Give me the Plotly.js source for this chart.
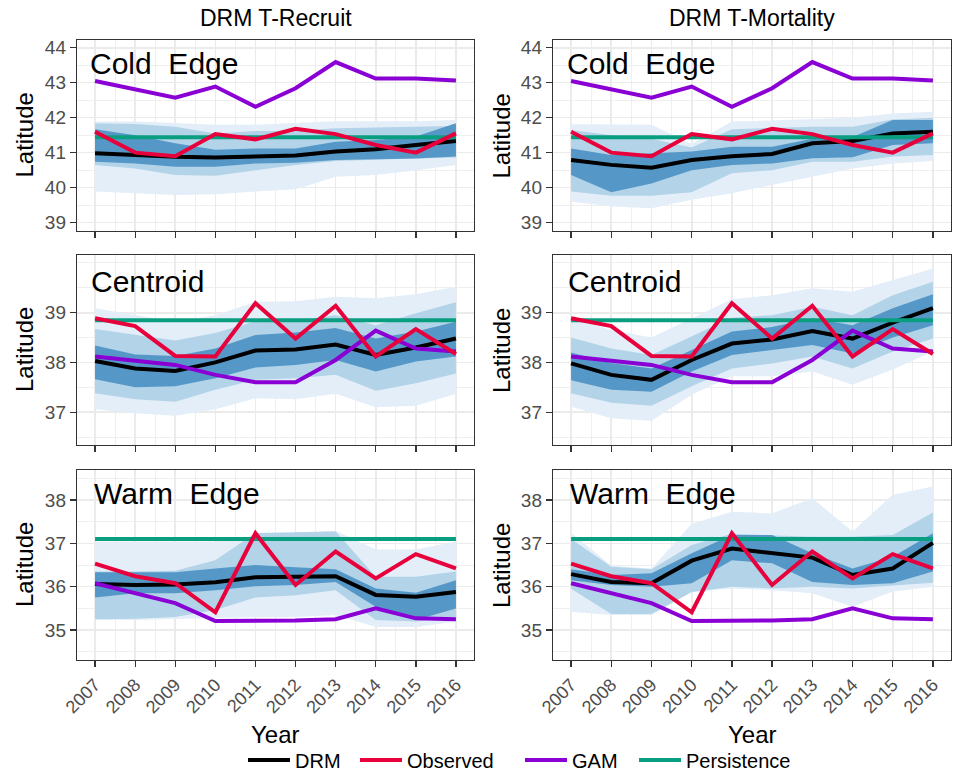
<!DOCTYPE html>
<html><head><meta charset="utf-8">
<script src="https://cdn.plot.ly/plotly-3.0.1.min.js"></script>
<style>html,body{margin:0;padding:0;background:#fff}</style>
</head><body><div id="chart" style="width:956px;height:777px"></div>
<script>
const years = [2007, 2008, 2009, 2010, 2011, 2012, 2013, 2014, 2015, 2016];
const columnTitles = ["DRM T-Recruit", "DRM T-Mortality"];
const rowLabels = ["Cold  Edge", "Centroid", "Warm  Edge"];
const seriesNames = ["DRM", "Observed", "GAM", "Persistence"];

// Observed / GAM / Persistence (same in both columns)
const obsCold = [41.6, 41.0, 40.9, 41.53, 41.38, 41.68, 41.53, 41.22, 41.0, 41.55];
const gamCold = [43.05, 42.81, 42.57, 42.89, 42.31, 42.84, 43.59, 43.12, 43.12, 43.06];
const perCold = [41.44, 41.44, 41.44, 41.44, 41.44, 41.44, 41.44, 41.44, 41.44, 41.44];
const obsCent = [38.89, 38.73, 38.13, 38.12, 39.19, 38.48, 39.14, 38.12, 38.67, 38.17];
const gamCent = [38.12, 38.03, 37.95, 37.75, 37.6, 37.6, 38.05, 38.64, 38.28, 38.22];
const perCent = [38.85, 38.85, 38.85, 38.85, 38.85, 38.85, 38.85, 38.85, 38.85, 38.85];
const obsWarm = [36.53, 36.24, 36.08, 35.41, 37.23, 36.04, 36.81, 36.19, 36.75, 36.42];
const gamWarm = [36.08, 35.85, 35.62, 35.21, 35.21, 35.22, 35.25, 35.5, 35.27, 35.25];
const perWarm = [37.1, 37.1, 37.1, 37.1, 37.1, 37.1, 37.1, 37.1, 37.1, 37.1];

// DRM T-Recruit, cold edge
const recColdDrm = [40.98, 40.93, 40.88, 40.86, 40.9, 40.92, 41.03, 41.1, 41.22, 41.33];
const recColdDarkHi = [41.67, 41.5, 41.27, 41.08, 41.12, 41.12, 41.31, 41.36, 41.46, 41.84];
const recColdDarkLo = [40.74, 40.69, 40.6, 40.6, 40.69, 40.71, 40.79, 40.81, 40.83, 40.89];
const recColdMidHi = [41.84, 41.82, 41.74, 41.55, 41.62, 41.62, 41.7, 41.71, 41.74, 41.76];
const recColdMidLo = [40.65, 40.55, 40.36, 40.34, 40.5, 40.65, 40.76, 40.79, 40.83, 40.86];
const recColdLightHi = [41.89, 41.89, 41.85, 41.8, 41.8, 41.85, 41.9, 41.9, 41.9, 41.93];
const recColdLightLo = [39.89, 39.84, 39.79, 39.81, 39.89, 39.95, 40.31, 40.36, 40.5, 40.65];

// DRM T-Mortality, cold edge
const morColdDrm = [40.79, 40.65, 40.57, 40.79, 40.9, 40.96, 41.27, 41.33, 41.55, 41.6];
const morColdDarkHi = [41.12, 40.93, 40.98, 41.03, 41.17, 41.17, 41.4, 41.45, 41.93, 41.93];
const morColdDarkLo = [40.36, 39.87, 40.12, 40.5, 40.65, 40.69, 40.84, 40.87, 41.22, 41.27];
const morColdMidHi = [41.65, 41.5, 41.4, 41.15, 41.67, 41.7, 41.74, 41.74, 41.95, 42.0];
const morColdMidLo = [39.89, 39.77, 39.77, 39.87, 40.41, 40.5, 40.74, 40.74, 40.89, 40.93];
const morColdLightHi = [41.81, 41.81, 41.8, 41.25, 41.89, 41.92, 41.95, 42.0, 42.12, 42.17];
const morColdLightLo = [39.6, 39.46, 39.41, 39.65, 39.84, 40.08, 40.31, 40.55, 40.69, 40.76];

// DRM T-Recruit, centroid
const recCentDrm = [38.03, 37.88, 37.83, 38.0, 38.24, 38.26, 38.36, 38.15, 38.3, 38.48];
const recCentDarkHi = [38.34, 38.16, 38.13, 38.28, 38.55, 38.6, 38.69, 38.48, 38.62, 38.82];
const recCentDarkLo = [37.66, 37.5, 37.52, 37.68, 37.9, 37.95, 38.05, 37.82, 38.02, 38.12];
const recCentMidHi = [38.67, 38.55, 38.44, 38.59, 38.83, 38.85, 38.95, 38.75, 38.99, 39.21];
const recCentMidLo = [37.38, 37.26, 37.21, 37.45, 37.65, 37.68, 37.75, 37.43, 37.58, 37.78];
const recCentLightHi = [39.09, 38.95, 38.82, 38.95, 39.22, 39.23, 39.32, 39.29, 39.37, 39.52];
const recCentLightLo = [37.06, 36.98, 36.93, 37.06, 37.28, 37.26, 37.37, 37.1, 37.13, 37.37];

// DRM T-Mortality, centroid
const morCentDrm = [37.98, 37.75, 37.65, 38.05, 38.38, 38.46, 38.63, 38.48, 38.8, 39.09];
const morCentDarkHi = [38.2, 37.99, 37.88, 38.25, 38.62, 38.71, 38.89, 38.75, 39.09, 39.37];
const morCentDarkLo = [37.64, 37.45, 37.41, 37.82, 38.15, 38.25, 38.35, 38.18, 38.5, 38.75];
const morCentMidHi = [38.5, 38.28, 38.15, 38.52, 38.9, 38.95, 39.12, 38.95, 39.35, 39.62];
const morCentMidLo = [37.38, 37.19, 37.13, 37.52, 37.88, 37.98, 38.12, 37.88, 38.22, 38.48];
const morCentLightHi = [38.89, 38.65, 38.5, 38.89, 39.27, 39.35, 39.49, 39.42, 39.66, 39.89];
const morCentLightLo = [37.11, 36.88, 36.83, 37.35, 37.72, 37.72, 37.82, 37.55, 37.86, 38.22];

// DRM T-Recruit, warm edge
const recWarmDrm = [36.06, 36.04, 36.05, 36.1, 36.22, 36.23, 36.24, 35.81, 35.77, 35.88];
const recWarmDarkHi = [36.33, 36.33, 36.33, 36.42, 36.5, 36.45, 36.4, 35.96, 35.86, 36.15];
const recWarmDarkLo = [35.75, 35.85, 35.85, 35.92, 36.01, 36.04, 36.11, 35.54, 35.23, 35.5];
const recWarmMidHi = [36.35, 36.35, 36.37, 36.61, 37.24, 37.25, 37.27, 36.23, 36.23, 36.35];
const recWarmMidLo = [35.25, 35.26, 35.3, 35.46, 35.75, 35.8, 35.92, 35.23, 35.2, 35.3];
const recWarmLightHi = [37.04, 37.04, 37.04, 37.04, 37.15, 37.25, 37.29, 36.86, 36.86, 37.04];
const recWarmLightLo = [35.23, 35.23, 35.25, 35.28, 35.3, 35.3, 35.35, 35.07, 35.07, 35.2];

// DRM T-Mortality, warm edge
const morWarmDrm = [36.29, 36.11, 36.08, 36.6, 36.88, 36.77, 36.67, 36.27, 36.42, 37.01];
const morWarmDarkHi = [36.4, 36.27, 36.31, 36.77, 37.19, 37.19, 36.77, 36.42, 36.69, 37.23];
const morWarmDarkLo = [36.15, 36.04, 36.0, 36.08, 36.61, 36.54, 36.11, 36.04, 36.08, 36.35];
const morWarmMidHi = [37.1, 36.46, 36.4, 36.96, 37.22, 37.19, 37.15, 37.15, 37.19, 37.71];
const morWarmMidLo = [35.95, 35.37, 35.37, 35.88, 36.0, 35.96, 36.0, 35.96, 36.03, 36.09];
const morWarmLightHi = [37.25, 36.48, 36.42, 37.45, 37.73, 37.69, 38.04, 37.27, 38.12, 38.31];
const morWarmLightLo = [35.42, 35.35, 35.35, 35.88, 35.96, 35.92, 35.85, 35.54, 35.89, 36.0];

const yTicksCold = [39, 40, 41, 42, 43, 44];
const yTicksCent = [37, 38, 39];
const yTicksWarm = [35, 36, 37, 38];

// ---- styling / layout (not data) ----
const FONT = "Liberation Sans, Arial, Helvetica, sans-serif";
const colors = {DRM: "#000000", Observed: "#e8003d", GAM: "#8a00d4", Persistence: "#0a9e80"};
const bandColors = {light: "#e3eef8", mid: "#b3d3e8", dark: "#5598c8"};

const panels = [
  {drm: recColdDrm, bands: [[recColdLightHi, recColdLightLo], [recColdMidHi, recColdMidLo], [recColdDarkHi, recColdDarkLo]], obs: obsCold, gam: gamCold, per: perCold, ticks: yTicksCold, range: [38.76, 44.22]},
  {drm: morColdDrm, bands: [[morColdLightHi, morColdLightLo], [morColdMidHi, morColdMidLo], [morColdDarkHi, morColdDarkLo]], obs: obsCold, gam: gamCold, per: perCold, ticks: yTicksCold, range: [38.76, 44.22]},
  {drm: recCentDrm, bands: [[recCentLightHi, recCentLightLo], [recCentMidHi, recCentMidLo], [recCentDarkHi, recCentDarkLo]], obs: obsCent, gam: gamCent, per: perCent, ticks: yTicksCent, range: [36.34, 40.16]},
  {drm: morCentDrm, bands: [[morCentLightHi, morCentLightLo], [morCentMidHi, morCentMidLo], [morCentDarkHi, morCentDarkLo]], obs: obsCent, gam: gamCent, per: perCent, ticks: yTicksCent, range: [36.34, 40.16]},
  {drm: recWarmDrm, bands: [[recWarmLightHi, recWarmLightLo], [recWarmMidHi, recWarmMidLo], [recWarmDarkHi, recWarmDarkLo]], obs: obsWarm, gam: gamWarm, per: perWarm, ticks: yTicksWarm, range: [34.31, 38.69]},
  {drm: morWarmDrm, bands: [[morWarmLightHi, morWarmLightLo], [morWarmMidHi, morWarmMidLo], [morWarmDarkHi, morWarmDarkLo]], obs: obsWarm, gam: gamWarm, per: perWarm, ticks: yTicksWarm, range: [34.31, 38.69]}
];

const W = 956, H = 777;
const colPx = [[77, 474], [553, 951]];
const rowPx = [[40, 231], [255, 445], [470, 660]];
const facetLabelPx = [[88, 64], [565, 64], [89, 281], [566, 281], [92, 493], [568, 493]];
// one legend box per series, placed along the bottom row (left edge in px)
const legendSlots = {DRM: ["legend", 243], Observed: ["legend2", 355], GAM: ["legend3", 520], Persistence: ["legend4", 634]};

const traces = [];
const layout = {
  width: W, height: H,
  margin: {l: 0, r: 0, t: 0, b: 0, autoexpand: false},
  paper_bgcolor: "#ffffff", plot_bgcolor: "#ffffff",
  font: {family: FONT, color: "#000"},
  showlegend: true,
  annotations: []
};
Object.keys(legendSlots).forEach(name => {
  const [key, px] = legendSlots[name];
  layout[key] = {orientation: "h", x: px / W, xanchor: "left", y: 1 - 760 / H, yanchor: "middle",
    font: {family: FONT, size: 20, color: "#000"}, itemwidth: 42, borderwidth: 0,
    bgcolor: "rgba(0,0,0,0)"};
});

const lineSpec = [
  ["DRM", "drm"],
  ["Persistence", "per"],
  ["GAM", "gam"],
  ["Observed", "obs"]
];

panels.forEach((p, i) => {
  const r = Math.floor(i / 2), c = i % 2;
  const n = i + 1;
  const xa = n === 1 ? "x" : "x" + n, ya = n === 1 ? "y" : "y" + n;
  const xkey = n === 1 ? "xaxis" : "xaxis" + n, ykey = n === 1 ? "yaxis" : "yaxis" + n;
  const bandKeys = ["light", "mid", "dark"];
  p.bands.forEach((b, k) => {
    traces.push({
      x: years.concat(years.slice().reverse()),
      y: b[0].concat(b[1].slice().reverse()),
      xaxis: xa, yaxis: ya, type: "scatter", mode: "lines", fill: "toself",
      fillcolor: bandColors[bandKeys[k]], line: {width: 0, color: bandColors[bandKeys[k]]},
      hoverinfo: "skip", showlegend: false
    });
  });
  lineSpec.forEach(([name, key]) => {
    traces.push({
      x: years, y: p[key], xaxis: xa, yaxis: ya, type: "scatter", mode: "lines",
      name: name, line: {color: colors[name], width: 4},
      legend: legendSlots[name][0],
      showlegend: i === 0
    });
  });
  const bottom = r === 2;
  layout[xkey] = {
    domain: [colPx[c][0] / W, colPx[c][1] / W], anchor: ya,
    range: [2006.55, 2016.45], tickmode: "array", tickvals: years,
    showticklabels: bottom, tickangle: -45, automargin: false,
    tickfont: {family: FONT, size: 18, color: "#4d4d4d"},
    ticks: "outside", ticklen: 6, tickwidth: 1.3, tickcolor: "#333333",
    showgrid: true, gridcolor: "#ebebeb", gridwidth: 1.6,
    minor: {tickmode: "linear", tick0: 2006.5, dtick: 1, showgrid: true, gridcolor: "#ebebeb", gridwidth: 0.8},
    showline: true, mirror: true, linecolor: "#333333", linewidth: 1.2,
    zeroline: false, fixedrange: true
  };
  layout[ykey] = {
    domain: [1 - rowPx[r][1] / H, 1 - rowPx[r][0] / H], anchor: xa,
    range: p.range, tickmode: "array", tickvals: p.ticks, automargin: false,
    tickfont: {family: FONT, size: 19, color: "#4d4d4d"},
    ticks: "outside", ticklen: 6, tickwidth: 1.3, tickcolor: "#333333",
    showgrid: true, gridcolor: "#ebebeb", gridwidth: 1.6,
    minor: {tickmode: "linear", tick0: 0, dtick: 0.5, showgrid: true, gridcolor: "#ebebeb", gridwidth: 0.8},
    showline: true, mirror: true, linecolor: "#333333", linewidth: 1.2,
    zeroline: false, fixedrange: true
  };
  layout.annotations.push({
    text: rowLabels[r], xref: "paper", yref: "paper",
    x: facetLabelPx[i][0] / W, y: 1 - facetLabelPx[i][1] / H,
    xanchor: "left", yanchor: "middle", showarrow: false,
    font: {family: FONT, size: 30, color: "#000"}
  });
  layout.annotations.push({
    text: "Latitude", xref: "paper", yref: "paper",
    x: (c === 0 ? 24 : 501) / W, y: 1 - (rowPx[r][0] + rowPx[r][1]) / 2 / H,
    xanchor: "center", yanchor: "middle", textangle: -90, showarrow: false,
    font: {family: FONT, size: 24, color: "#000"}
  });
});

columnTitles.forEach((t, c) => {
  layout.annotations.push({
    text: t, xref: "paper", yref: "paper",
    x: (colPx[c][0] + colPx[c][1]) / 2 / W, y: 1 - 18 / H,
    xanchor: "center", yanchor: "middle", showarrow: false,
    font: {family: FONT, size: 23, color: "#000"}
  });
  layout.annotations.push({
    text: "Year", xref: "paper", yref: "paper",
    x: (colPx[c][0] + colPx[c][1]) / 2 / W, y: 1 - 734 / H,
    xanchor: "center", yanchor: "middle", showarrow: false,
    font: {family: FONT, size: 24, color: "#000"}
  });
});

Plotly.newPlot("chart", traces, layout, {displayModeBar: false, staticPlot: true});
</script></body></html>
